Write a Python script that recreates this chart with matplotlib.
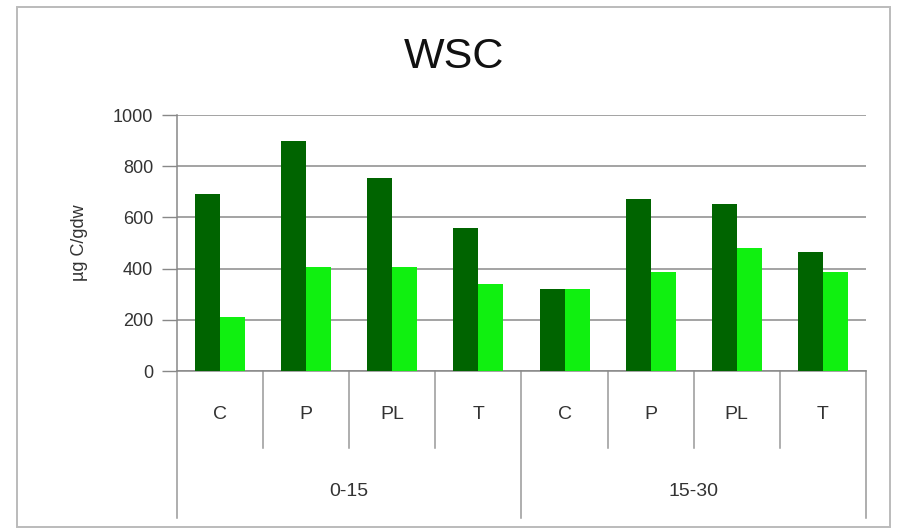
import matplotlib
matplotlib.use("Agg")
import matplotlib.pyplot as plt
import numpy as np
from matplotlib.patches import Rectangle

plt.rcParams['font.family'] = ['Liberation Sans', 'DejaVu Sans']

title = "WSC"
ylabel = "µg C/gdw"
groups = ["0-15", "15-30"]
categories = ["C", "P", "PL", "T"]
series_dark = [690, 900, 755, 557, 320, 672, 652, 466]
series_light = [210, 405, 405, 340, 322, 388, 482, 388]
yticks = [0, 200, 400, 600, 800, 1000]

dark_color = "#006400"
light_color = "#10F010"
text_color = "#333333"

fig = plt.figure(figsize=(8.97, 5.31), dpi=100)
fig.patch.set_facecolor("white")
fig.patches.append(Rectangle((0.019, 0.008), 0.973, 0.979, transform=fig.transFigure,
                             fill=False, edgecolor="#BBBBBB", linewidth=1.4))

ax = fig.add_axes([0.1973, 0.3013, 0.7681, 0.4821])
n = len(series_dark)
x = np.arange(n)
w = 0.29
ax.bar(x - w / 2, series_dark, width=w, color=dark_color, zorder=3)
ax.bar(x + w / 2, series_light, width=w, color=light_color, zorder=3)

ax.set_xlim(-0.5, n - 0.5)
ax.set_ylim(0, 1000)
ax.set_yticks(yticks)
ax.set_yticklabels([str(v) for v in yticks], fontsize=13, color=text_color)
ax.tick_params(axis='y', length=11, color="#888888", width=1, pad=6)
ax.yaxis.grid(True, color="#8A8A8A", linewidth=1.1, zorder=0)
ax.set_axisbelow(True)
ax.set_xticks([])
for s in ["top", "right"]:
    ax.spines[s].set_visible(False)
ax.spines["left"].set_color("#888888")
ax.spines["bottom"].set_color("#888888")
ax.spines["left"].set_linewidth(1.1)
ax.spines["bottom"].set_linewidth(1.1)
ax.set_ylabel(ylabel, fontsize=13, color=text_color, labelpad=18)

fig.text(0.506, 0.892, title, fontsize=31, ha="center", va="center", color="#111111")

# Category labels and dividers
trans = ax.get_xaxis_transform()
labels = [c for g in groups for c in categories]
for i, lab in enumerate(labels):
    ax.text(i, -0.17, lab, transform=trans, ha="center", va="center",
            fontsize=14, color=text_color, clip_on=False)
short_len = -0.30
long_len = -0.575
for b in range(n + 1):
    pos = b - 0.5
    if b % len(categories) == 0:
        ax.plot([pos, pos], [0, long_len], transform=trans, color="#999999",
                linewidth=1.1, clip_on=False)
    else:
        ax.plot([pos, pos], [0, short_len], transform=trans, color="#999999",
                linewidth=1.1, clip_on=False)
for gi, g in enumerate(groups):
    center = gi * len(categories) + (len(categories) - 1) / 2
    ax.text(center, -0.47, g, transform=trans, ha="center", va="center",
            fontsize=14, color=text_color, clip_on=False)

fig.savefig("out.png", dpi=100, facecolor="white")
